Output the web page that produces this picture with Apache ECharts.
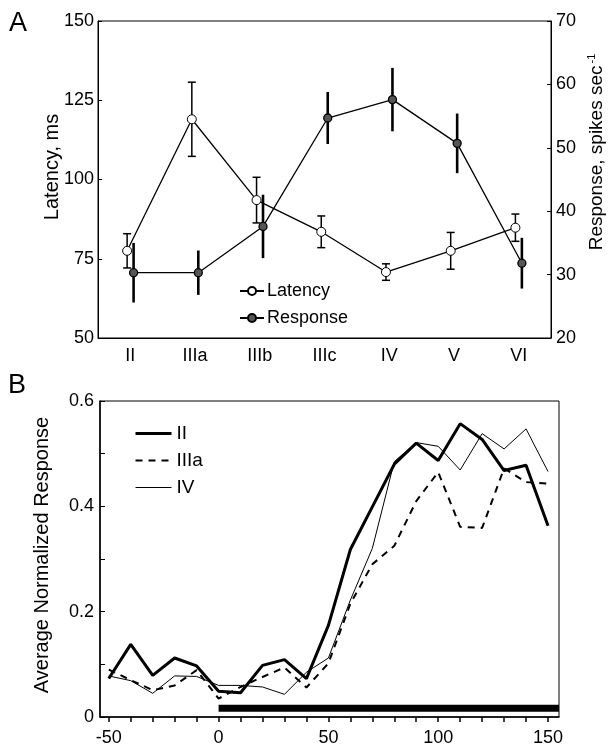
<!DOCTYPE html>
<html>
<head>
<meta charset="utf-8">
<script src="https://cdn.jsdelivr.net/npm/echarts@6/dist/echarts.min.js"></script>
<style>
html,body{margin:0;padding:0;background:#fff;}
#chart{width:608px;height:748px;}
</style>
</head>
<body>
<div id="chart"></div>
<script>
// ---------- Panel A data ----------
const layers = ['II', 'IIIa', 'IIIb', 'IIIc', 'IV', 'V', 'VI'];
const latency = [77.5, 119, 93.5, 83.5, 70.8, 77.5, 84.8];
const latencyErr = [5.4, 11.7, 7.2, 5.0, 2.6, 5.8, 4.3];
const response = [30.3, 30.3, 37.6, 54.7, 57.6, 50.7, 31.8];
const responseErr = [4.7, 3.5, 5.0, 4.1, 5.0, 4.7, 4.0];
const latencyTicks = [50, 75, 100, 125, 150];
const responseTicks = [20, 30, 40, 50, 60, 70];

// ---------- Panel B data ----------
const times = [-50, -40, -30, -20, -10, 0, 10, 20, 30, 40, 50, 60, 70, 80, 90, 100, 110, 120, 130, 140, 150];
const normII = [0.073, 0.138, 0.079, 0.112, 0.097, 0.049, 0.046, 0.098, 0.109, 0.073, 0.174, 0.318, 0.399, 0.480, 0.520, 0.487, 0.557, 0.527, 0.468, 0.478, 0.363];
const normIIIa = [0.090, 0.070, 0.051, 0.060, 0.089, 0.035, 0.057, 0.076, 0.094, 0.056, 0.102, 0.215, 0.290, 0.325, 0.410, 0.465, 0.361, 0.359, 0.472, 0.446, 0.443];
const normIV = [0.078, 0.069, 0.045, 0.078, 0.077, 0.060, 0.060, 0.057, 0.043, 0.085, 0.112, 0.222, 0.320, 0.485, 0.521, 0.514, 0.469, 0.538, 0.509, 0.547, 0.466];
const timeTicks = [-50, -40, -30, -20, -10, 0, 10, 20, 30, 40, 50, 60, 70, 80, 90, 100, 110, 120, 130, 140, 150];
const timeLabels = [-50, 0, 50, 100, 150];
const normLabels = [0, 0.2, 0.4, 0.6];
const stimulusSpan = [0, 155];
const stimulusLevel = 0.0165;

// ---------- styling constants ----------
const FONT = 'Liberation Sans';
const OFF = 0.05; // horizontal offset between the two series in panel A
const W_II = 3, W_IIIa = 2, W_IV = 1;

const chart = echarts.init(document.getElementById('chart'), null, {renderer: 'canvas'});

function errBar(capHalf, lw) {
  return function (params, api) {
    const x = api.value(0), y = api.value(1), e = api.value(2);
    const top = api.coord([x, y + e]);
    const bot = api.coord([x, y - e]);
    const ch = [{type: 'line', shape: {x1: top[0], y1: top[1], x2: bot[0], y2: bot[1]}, style: {stroke: '#000', lineWidth: lw}}];
    if (capHalf > 0) {
      ch.push({type: 'line', shape: {x1: top[0] - capHalf, y1: top[1], x2: top[0] + capHalf, y2: top[1]}, style: {stroke: '#000', lineWidth: 1.5}});
      ch.push({type: 'line', shape: {x1: bot[0] - capHalf, y1: bot[1], x2: bot[0] + capHalf, y2: bot[1]}, style: {stroke: '#000', lineWidth: 1.5}});
    }
    return {type: 'group', children: ch};
  };
}

const axisTxt = {color: '#000', fontFamily: FONT, fontSize: 18};

const option = {
  animation: false,
  backgroundColor: '#fff',
  grid: [
    {left: 98, top: 21, width: 453, height: 317, show: true, borderColor: '#000', borderWidth: 1},
    {left: 100, top: 401, width: 459, height: 316, show: true, borderColor: '#000', borderWidth: 1}
  ],
  legend: [
    {
      data: ['Latency', 'Response'], orient: 'vertical', left: 234, top: 277,
      itemWidth: 24, itemHeight: 10, itemGap: 9,
      textStyle: {color: '#000', fontFamily: FONT, fontSize: 18, padding: [0, 0, 0, -2]}
    },
    {
      data: [
        {name: 'II', lineStyle: {width: W_II}},
        {name: 'IIIa', lineStyle: {width: W_IIIa}},
        {name: 'IV', lineStyle: {width: W_IV}}
      ],
      orient: 'vertical', left: 129, top: 419,
      itemWidth: 36, itemHeight: 16, itemGap: 8,
      itemStyle: {opacity: 0},
      textStyle: {color: '#000', fontFamily: FONT, fontSize: 19}
    }
  ],
  xAxis: [
    {
      type: 'category', gridIndex: 0, data: layers, boundaryGap: true,
      axisLine: {lineStyle: {color: '#000'}}, axisTick: {show: false},
      axisLabel: Object.assign({margin: 9, fontSize: 19}, axisTxt), splitLine: {show: false}
    },
    {type: 'value', gridIndex: 0, min: -0.5, max: 6.5, show: false},
    {
      type: 'value', gridIndex: 1, min: -54, max: 155,
      axisLine: {onZero: false, lineStyle: {color: '#000', width: 1.5}},
      axisTick: {customValues: timeTicks, length: 5, lineStyle: {color: '#000', width: 1.5}},
      axisLabel: Object.assign({customValues: timeLabels, margin: 12}, axisTxt),
      splitLine: {show: false}
    }
  ],
  yAxis: [
    {
      type: 'value', gridIndex: 0, min: 50, max: 150, interval: 25,
      axisLine: {show: true, onZero: false, lineStyle: {color: '#000'}},
      axisTick: {show: true, inside: true, length: 4, lineStyle: {color: '#000'}},
      axisLabel: Object.assign({margin: 4, customValues: latencyTicks}, axisTxt),
      splitLine: {show: false}
    },
    {
      type: 'value', gridIndex: 0, min: 20, max: 70, interval: 10, position: 'right',
      axisLine: {show: true, onZero: false, lineStyle: {color: '#000'}},
      axisTick: {show: true, inside: true, length: 4, lineStyle: {color: '#000'}},
      axisLabel: Object.assign({margin: 5, customValues: responseTicks}, axisTxt),
      splitLine: {show: false}
    },
    {
      type: 'value', gridIndex: 1, min: 0, max: 0.6, interval: 0.1,
      axisLine: {show: true, onZero: false, lineStyle: {color: '#000', width: 1.5}},
      axisTick: {show: true, inside: true, length: 5, lineStyle: {color: '#000'}},
      axisLabel: Object.assign({margin: 6, customValues: normLabels}, axisTxt),
      splitLine: {show: false}
    }
  ],
  graphic: [
    {type: 'text', left: 9, top: 10, style: {text: 'A', fontFamily: FONT, fontSize: 27, fill: '#000'}},
    {type: 'text', left: 8, top: 372, style: {text: 'B', fontFamily: FONT, fontSize: 27, fill: '#000'}},
    {type: 'text', x: 52, y: 167, rotation: Math.PI / 2,
      style: {text: 'Latency, ms', fontFamily: FONT, fontSize: 20, fill: '#000', align: 'center', verticalAlign: 'middle'}},
    {type: 'text', x: 597, y: 152, rotation: Math.PI / 2,
      style: {text: 'Response, spikes sec{sup|-1}', fontFamily: FONT, fontSize: 19, fill: '#000', align: 'center', verticalAlign: 'middle',
        rich: {sup: {fontFamily: FONT, fontSize: 11, fill: '#000', padding: [0, 0, 10, 2]}}}},
    {type: 'text', x: 42, y: 555, rotation: Math.PI / 2,
      style: {text: 'Average Normalized Response', fontFamily: FONT, fontSize: 20, fill: '#000', align: 'center', verticalAlign: 'middle'}}
  ],
  series: [
    // Panel A error bars
    {
      type: 'custom', name: 'latErr', xAxisIndex: 1, yAxisIndex: 0, z: 1, silent: true,
      renderItem: errBar(4, 1.5),
      data: layers.map((c, i) => [i - OFF, latency[i], latencyErr[i]])
    },
    {
      type: 'custom', name: 'respErr', xAxisIndex: 1, yAxisIndex: 1, z: 1, silent: true,
      renderItem: errBar(0, 2.6),
      data: layers.map((c, i) => [i + OFF, response[i], responseErr[i]])
    },
    {
      type: 'line', name: 'Latency', xAxisIndex: 1, yAxisIndex: 0, z: 3,
      data: layers.map((c, i) => [i - OFF, latency[i]]),
      symbol: 'circle', symbolSize: 9,
      lineStyle: {color: '#000', width: 1.3},
      itemStyle: {color: '#fff', borderColor: '#000', borderWidth: 1}
    },
    {
      type: 'line', name: 'Response', xAxisIndex: 1, yAxisIndex: 1, z: 3,
      data: layers.map((c, i) => [i + OFF, response[i]]),
      symbol: 'circle', symbolSize: 8,
      lineStyle: {color: '#000', width: 1.3},
      itemStyle: {color: '#555', borderColor: '#000', borderWidth: 1.3}
    },
    // Panel B
    {
      type: 'line', name: 'stimulus', xAxisIndex: 2, yAxisIndex: 2, silent: true, z: 2,
      data: stimulusSpan.map(t => [t, stimulusLevel]), showSymbol: false, symbol: 'none',
      lineStyle: {color: '#000', width: 7, cap: 'butt'}
    },
    {
      type: 'line', name: 'II', xAxisIndex: 2, yAxisIndex: 2, z: 5,
      data: times.map((t, i) => [t, normII[i]]), symbol: 'none',
      lineStyle: {color: '#000', width: W_II}, itemStyle: {color: '#000'}
    },
    {
      type: 'line', name: 'IIIa', xAxisIndex: 2, yAxisIndex: 2, z: 4,
      data: times.map((t, i) => [t, normIIIa[i]]), symbol: 'none',
      lineStyle: {color: '#000', width: W_IIIa, type: [7, 6]}, itemStyle: {color: '#000'}
    },
    {
      type: 'line', name: 'IV', xAxisIndex: 2, yAxisIndex: 2, z: 3,
      data: times.map((t, i) => [t, normIV[i]]), symbol: 'none',
      lineStyle: {color: '#000', width: W_IV}, itemStyle: {color: '#000'}
    }
  ]
};

chart.setOption(option);
</script>
</body>
</html>
